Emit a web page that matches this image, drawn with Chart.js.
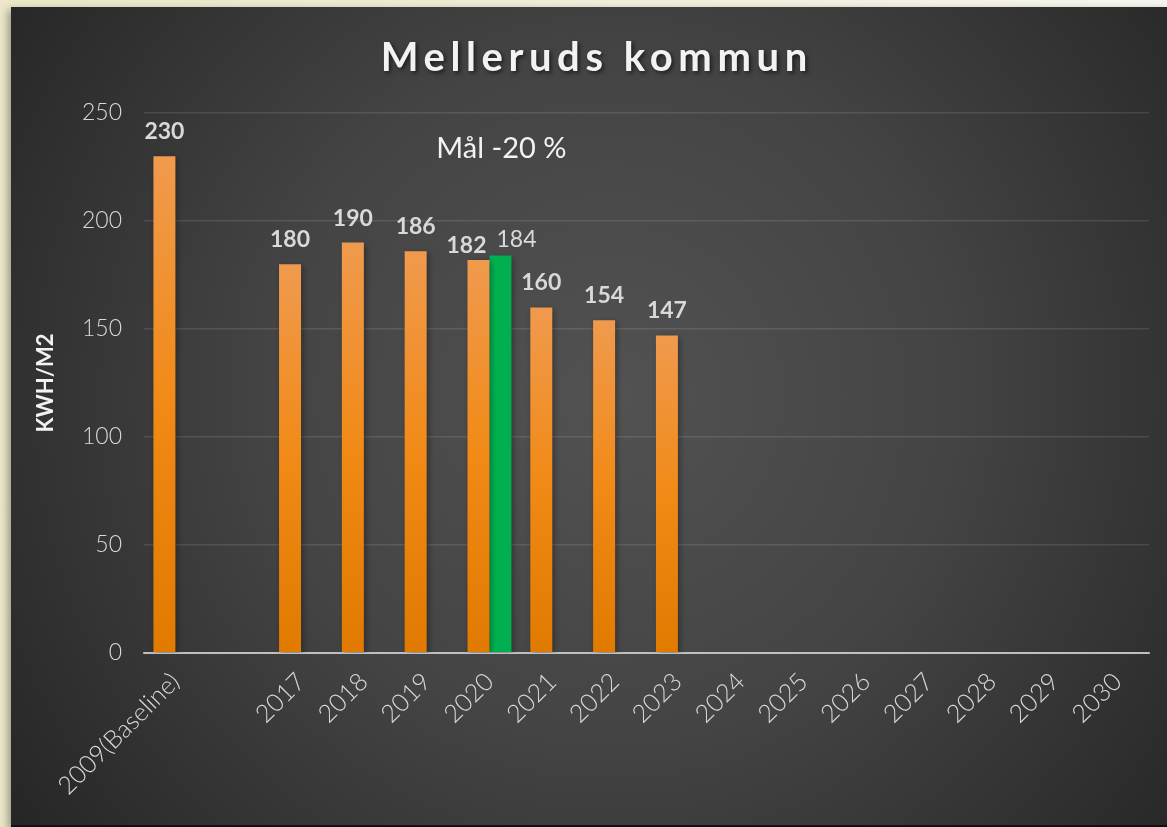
<!DOCTYPE html>
<html>
<head>
<meta charset="utf-8">
<script src="https://cdn.jsdelivr.net/npm/chart.js@4.4.1/dist/chart.umd.min.js"></script>
<style>
  html, body { margin: 0; padding: 0; }
  body { width: 1167px; height: 827px; background: linear-gradient(90deg, #ebe7c8 0%, #f1eed9 50%, #f7f6ee 100%); position: relative; overflow: hidden; }
  #wrap { position: absolute; left: 11px; top: 7px; width: 1156px; height: 820px; box-shadow: -3px 3px 8px rgba(0,0,0,0.35); }
  canvas { display: block; }
</style>
</head>
<body>
<div id="wrap"><canvas id="c" width="1156" height="820"></canvas></div>
<script>
const categories = ["2009(Baseline)", "", "2017", "2018", "2019", "2020", "2021", "2022", "2023", "2024", "2025", "2026", "2027", "2028", "2029", "2030"];
const actualValues = [230, null, 180, 190, 186, 182, 160, 154, 147, null, null, null, null, null, null, null];
const goalValues = [null, null, null, null, null, 184, null, null, null, null, null, null, null, null, null, null];
const yTicks = [0, 50, 100, 150, 200, 250];
const titleText = "Melleruds kommun";
const yTitle = "KWH/M2";
const goalNote = "Mål -20 %";

const FONT = "Lato, 'Noto Sans', sans-serif";
const TEXT = "#d9d9d9";

const bgPlugin = {
  id: 'bg',
  beforeDraw(chart) {
    const { ctx, width, height } = chart;
    ctx.save();
    const g = ctx.createRadialGradient(600, 390, 0, 600, 390, 760);
    g.addColorStop(0, '#525252');
    g.addColorStop(0.45, '#444444');
    g.addColorStop(1, '#242424');
    ctx.fillStyle = g;
    ctx.fillRect(0, 0, width, height);
    ctx.fillStyle = '#111';
    ctx.fillRect(0, height - 2, width, 2);
    ctx.restore();
  }
};

const shadowPlugin = {
  id: 'barShadow',
  beforeDatasetsDraw(chart) {
    const ctx = chart.ctx;
    ctx.save();
    ctx.shadowColor = 'rgba(0,0,0,0.35)';
    ctx.shadowBlur = 6;
    ctx.shadowOffsetX = 2;
    ctx.shadowOffsetY = 2;
  },
  afterDatasetsDraw(chart) {
    chart.ctx.restore();
  }
};

const textPlugin = {
  id: 'texts',
  afterDraw(chart) {
    const { ctx } = chart;
    ctx.save();
    // Title
    ctx.font = "bold 40px " + FONT;
    ctx.textAlign = 'center';
    ctx.textBaseline = 'alphabetic';
    const targetW = 432;
    ctx.letterSpacing = '0px';
    const w0 = ctx.measureText(titleText).width;
    const ls = Math.max(0, (targetW - w0) / titleText.length);
    ctx.letterSpacing = ls + 'px';
    ctx.shadowColor = 'rgba(0,0,0,0.6)';
    ctx.shadowBlur = 4;
    ctx.shadowOffsetX = 2;
    ctx.shadowOffsetY = 2;
    ctx.fillStyle = '#f2f2f2';
    ctx.fillText(titleText, 583 + ls / 2, 64);
    ctx.letterSpacing = '0px';
    ctx.shadowColor = 'transparent';

    // Goal note
    const xs = chart.scales.x, ys = chart.scales.y;
    ctx.font = "29px " + FONT;
    ctx.fillStyle = '#f2f2f2';
    ctx.fillText(goalNote, xs.getPixelForValue(5) + 12, ys.getPixelForValue(229));

    // Data labels
    const mA = chart.getDatasetMeta(0), mG = chart.getDatasetMeta(1);
    mA.data.forEach((bar, i) => {
      const v = actualValues[i];
      if (v == null) return;
      const pair = goalValues[i] != null;
      ctx.font = "bold 23px " + FONT;
      ctx.fillStyle = TEXT;
      ctx.fillText(String(v), bar.x + (pair ? -12 : 0), bar.y - (pair ? 7 : 17));
    });
    mG.data.forEach((bar, i) => {
      const v = goalValues[i];
      if (v == null) return;
      ctx.font = "23px " + FONT;
      ctx.fillStyle = TEXT;
      ctx.fillText(String(v), bar.x + 16, bar.y - 9);
    });
    ctx.restore();
  }
};

function orangeFill(context) {
  const chart = context.chart;
  const v = context.raw;
  if (v == null || !chart.chartArea) return '#ef8a1a';
  const ys = chart.scales.y;
  const top = ys.getPixelForValue(v), bottom = ys.getPixelForValue(0);
  const g = chart.ctx.createLinearGradient(0, top, 0, bottom);
  g.addColorStop(0, '#f09a4e');
  g.addColorStop(0.5, '#f18a16');
  g.addColorStop(1, '#e07a00');
  return g;
}

new Chart(document.getElementById('c'), {
  type: 'bar',
  data: {
    labels: categories,
    datasets: [
      { label: 'Faktisk', data: actualValues, backgroundColor: orangeFill, borderWidth: 0 },
      { label: 'Mål', data: goalValues, backgroundColor: '#00b050', borderWidth: 0 }
    ]
  },
  options: {
    responsive: false,
    animation: false,
    events: [],
    layout: { padding: { top: 106, right: 18, left: 0, bottom: 0 } },
    datasets: { bar: { categoryPercentage: 0.7, barPercentage: 1.0, skipNull: false } },
    plugins: { legend: { display: false }, title: { display: false }, tooltip: { enabled: false } },
    scales: {
      x: {
        grid: { display: false, drawTicks: false },
        border: { display: true, color: 'rgba(200,200,200,0.75)', width: 2 },
        ticks: { color: TEXT, font: { family: FONT, size: 25, weight: '300' }, minRotation: 45, maxRotation: 45, autoSkip: false, padding: 14 },
        afterFit(scale) { scale.height = 174; }
      },
      y: {
        min: 0, max: 250,
        afterBuildTicks(scale) { scale.ticks = yTicks.map(v => ({ value: v })); },
        grid: { color: (c) => c.tick && c.tick.value === 0 ? 'rgba(200,200,200,0.75)' : 'rgba(255,255,255,0.11)', lineWidth: (c) => c.tick && c.tick.value === 0 ? 2 : 1.5, drawTicks: false },
        border: { display: false },
        ticks: { color: TEXT, font: { family: FONT, size: 23, weight: '300' }, padding: 22 },
        title: { display: true, text: yTitle, color: '#f2f2f2', font: { family: FONT, size: 22, weight: 'bold' }, padding: { top: 22, bottom: 0 } },
        afterFit(scale) { scale.width = 133; }
      }
    }
  },
  plugins: [bgPlugin, shadowPlugin, textPlugin]
});
</script>
</body>
</html>
